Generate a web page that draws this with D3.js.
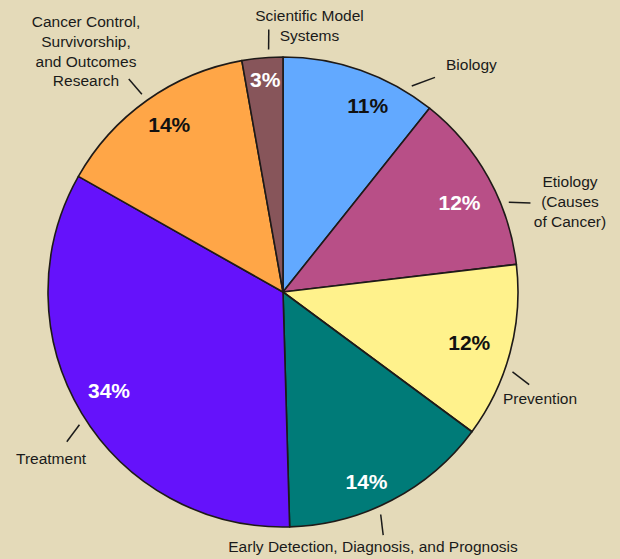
<!DOCTYPE html>
<html>
<head>
<meta charset="utf-8">
<script src="https://cdn.jsdelivr.net/npm/d3@7"></script>
<style>
  html, body { margin: 0; padding: 0; background: #e4dab9; }
  svg { display: block; }
  text { font-family: "Liberation Sans", Arial, Helvetica, sans-serif; }
</style>
</head>
<body>
<svg id="chart" width="620" height="559"></svg>
<script>
// Research areas, clockwise from 12 o'clock
const categories = [
  'Biology',
  'Etiology (Causes of Cancer)',
  'Prevention',
  'Early Detection, Diagnosis, and Prognosis',
  'Treatment',
  'Cancer Control, Survivorship, and Outcomes Research',
  'Scientific Model Systems'
];
// share of funding, percent
const shares = [10.7, 12.4, 12.0, 14.4, 33.6, 14.0, 2.8];
const sliceColors = ['#62a9ff', '#b84f87', '#fff28c', '#007b78', '#6512fb', '#ffa647', '#87555a'];
const pctInk = ['#111', '#fff', '#111', '#fff', '#fff', '#111', '#fff'];
const labelLines = [
  ['Biology'],
  ['Etiology', '(Causes', 'of Cancer)'],
  ['Prevention'],
  ['Early Detection, Diagnosis, and Prognosis'],
  ['Treatment'],
  ['Cancer Control,', 'Survivorship,', 'and Outcomes', 'Research'],
  ['Scientific Model', 'Systems']
];

// callout placement: leader line angles (deg) + text anchor relative to centre
const callouts = [
  { a1: 32, a2: 35.3, x: 163, y: -222, anchor: 'start' },
  { a1: 68.3, a2: 70.2, x: 287, y: -105, anchor: 'middle' },
  { a1: 109.2, a2: 110.6, x: 220, y: 112, anchor: 'start' },
  { a1: 156.3, a2: 157.6, x: 90, y: 260, anchor: 'middle' },
  { a1: 236.9, a2: 235.3, x: -267, y: 172, anchor: 'start' },
  { a1: 324.5, a2: 324.1, x: -197, y: -265, anchor: 'middle' },
  { a1: 356.6, a2: 356.9, x: 26.5, y: -271, anchor: 'middle' }
];
// small hand nudges of the percent labels off the centroid
const pctNudge = [[18, 4], [0, 9], [-9, -1], [-10, 10], [-1, -6], [3, -2.5], [0, -11]];

const cx = 283, cy = 292, R = 235;
const svg = d3.select('#chart');
const g = svg.append('g').attr('transform', `translate(${cx},${cy})`);

const pie = d3.pie().sort(null).value(d => d);
const arcs = pie(shares);
const arc = d3.arc().innerRadius(0).outerRadius(R);
const labelArc = d3.arc().innerRadius(202).outerRadius(202);

g.selectAll('path.slice')
  .data(arcs)
  .join('path')
  .attr('class', 'slice')
  .attr('d', arc)
  .attr('fill', (d, i) => sliceColors[i])
  .attr('stroke', '#1e1a18')
  .attr('stroke-width', 1.6)
  .attr('stroke-linejoin', 'round');

g.selectAll('text.pct')
  .data(arcs)
  .join('text')
  .attr('class', 'pct')
  .attr('transform', (d, i) => {
    const [x, y] = labelArc.centroid(d);
    return `translate(${x + pctNudge[i][0]},${y + pctNudge[i][1]})`;
  })
  .attr('text-anchor', 'middle')
  .attr('dy', '0.36em')
  .attr('font-size', 21)
  .attr('font-weight', 'bold')
  .attr('fill', (d, i) => pctInk[i])
  .text(d => Math.round(d.data) + '%');

const polar = (deg, r) => {
  const a = deg * Math.PI / 180;
  return [r * Math.sin(a), -r * Math.cos(a)];
};

g.selectAll('line.leader')
  .data(callouts)
  .join('line')
  .attr('class', 'leader')
  .attr('x1', d => polar(d.a1, 243)[0])
  .attr('y1', d => polar(d.a1, 243)[1])
  .attr('x2', d => polar(d.a2, 263)[0])
  .attr('y2', d => polar(d.a2, 263)[1])
  .attr('stroke', '#1a1a1a')
  .attr('stroke-width', 1.5);

const labels = g.selectAll('text.cat')
  .data(callouts)
  .join('text')
  .attr('class', 'cat')
  .attr('x', d => d.x)
  .attr('y', d => d.y)
  .attr('text-anchor', d => d.anchor)
  .attr('font-size', 15.5)
  .attr('fill', '#1a1a1a');

labels.selectAll('tspan')
  .data((d, i) => labelLines[i].map(t => ({ t, x: d.x })))
  .join('tspan')
  .attr('x', d => d.x)
  .attr('dy', (d, i) => i === 0 ? 0 : 19.8)
  .text(d => d.t);
</script>
</body>
</html>
